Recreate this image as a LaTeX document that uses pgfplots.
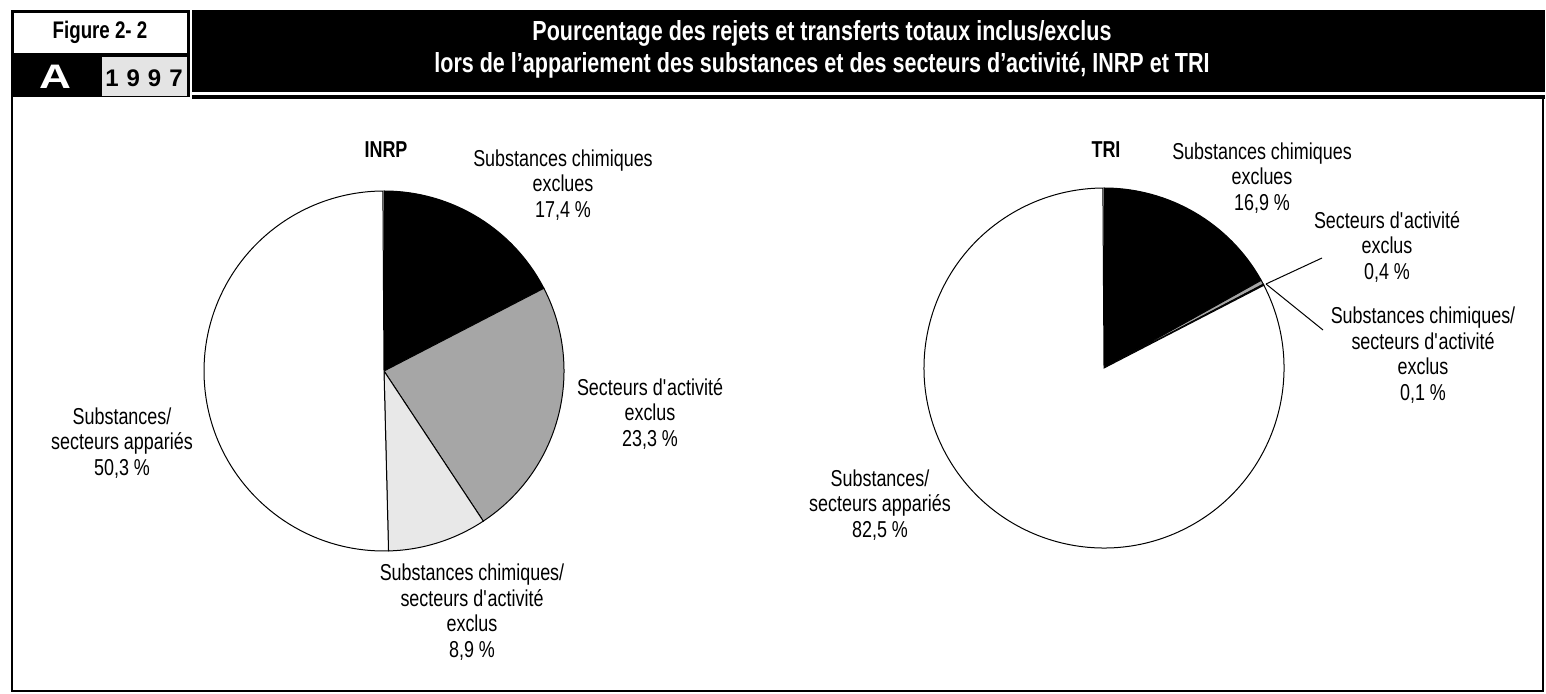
\documentclass[border=0pt]{standalone}
\usepackage{fontspec}
\setmainfont{Liberation Sans}[FakeStretch=0.78]
\newfontfamily\widefont{Liberation Sans}[FakeStretch=1.3]
\newfontfamily\yearfont{Liberation Sans}
\usepackage{pgfplots}
\usepackage{pgfplotstable}
\pgfplotsset{compat=1.18}

\definecolor{sliceA}{RGB}{0,0,0}
\definecolor{sliceB}{RGB}{166,166,166}
\definecolor{sliceC}{RGB}{232,232,232}
\definecolor{sliceD}{RGB}{255,255,255}
\definecolor{yearbox}{RGB}{228,228,228}

% shares in percent, clockwise from 12 o'clock
\pgfplotstableread{
pct col
17.4 sliceA
23.3 sliceB
8.9 sliceC
50.3 sliceD
}\inrp
\pgfplotstableread{
pct col
16.9 sliceA
0.4 sliceB
0.1 sliceC
82.5 sliceD
}\tri

\def\pierad{90pt}
\newcommand{\drawpie}[3]{% table, centre x, centre y
  \pgfplotstablegetrowsof{#1}%
  \pgfmathtruncatemacro{\nrows}{\pgfplotsretval-1}%
  \def\cum{0}%
  \pgfplotsforeachungrouped \i in {0,...,\nrows}{%
    \pgfplotstablegetelem{\i}{pct}\of{#1}\let\pct\pgfplotsretval
    \pgfplotstablegetelem{\i}{col}\of{#1}\let\col\pgfplotsretval
    \pgfmathsetmacro{\sa}{90-3.6*\cum}%
    \pgfmathsetmacro{\ea}{90-3.6*(\cum+\pct)}%
    \pgfmathsetmacro{\cum}{\cum+\pct}%
    \edef\cmd{\noexpand\filldraw[fill=\col,draw=black,line width=0.5pt]
      (axis cs:#2,#3) -- ++(\sa:\pierad)
      arc[start angle=\sa,end angle=\ea,radius=\pierad] -- cycle;}%
    \cmd
  }%
}
\newcommand{\lab}{\fontsize{11.5}{12.75}\selectfont}

\begin{document}
\begin{tikzpicture}
\begin{axis}[
  width=773pt, height=347pt, scale only axis,
  xmin=0, xmax=1546, ymin=0, ymax=694, y dir=reverse,
  hide axis, clip=false,
]
\path (axis cs:0,0) rectangle (axis cs:1546,694);
% header
\fill[black] (axis cs:11,10) rectangle (axis cs:190,97);
\fill[white] (axis cs:14,13) rectangle (axis cs:187,53);
\fill[yearbox] (axis cs:102,57) rectangle (axis cs:187,96);
\node[font=\fontsize{12}{14}\selectfont\bfseries] at (axis cs:100,32) {Figure 2- 2};
\node[font=\widefont\fontsize{17}{19}\selectfont\bfseries, text=white] at (axis cs:55,77) {A};
\node[font=\yearfont\fontsize{12}{14}\selectfont\bfseries] at (axis cs:144,78) {1\,\,9\,\,9\,\,7};
\fill[black] (axis cs:192,10) rectangle (axis cs:1545,92.5);
\fill[black] (axis cs:192,95.5) rectangle (axis cs:1545,99.5);
\node[font=\fontsize{13.8}{16}\selectfont\bfseries, text=white, align=center]
  at (axis cs:822,49) {Pourcentage des rejets et transferts totaux inclus/exclus\\
  lors de l’appariement des substances et des secteurs d’activité, INRP et TRI};
% frame
\draw[line width=1.2pt] (axis cs:12,97) -- (axis cs:12,691) -- (axis cs:1543,691) -- (axis cs:1543,99);

% pies
\drawpie{\inrp}{384}{371}
\drawpie{\tri}{1104}{368}

% INRP labels
\node[font=\fontsize{11.5}{13}\selectfont\bfseries] at (axis cs:386,150) {INRP};
\node[font=\lab, align=center] at (axis cs:563,185) {Substances chimiques\\exclues\\17,4 \%};
\node[font=\lab, align=center] at (axis cs:650,414) {Secteurs d\textquotesingle activité\\exclus\\23,3 \%};
\node[font=\lab, align=center] at (axis cs:472,612) {Substances chimiques/\\secteurs d\textquotesingle activité\\exclus\\8,9 \%};
\node[font=\lab, align=center] at (axis cs:122,443) {Substances/\\secteurs appariés\\50,3 \%};

% TRI labels
\node[font=\fontsize{11.5}{13}\selectfont\bfseries] at (axis cs:1106,150) {TRI};
\node[font=\lab, align=center] at (axis cs:1262,178) {Substances chimiques\\exclues\\16,9 \%};
\node[font=\lab, align=center] at (axis cs:1387,247) {Secteurs d\textquotesingle activité\\exclus\\0,4 \%};
\node[font=\lab, align=center] at (axis cs:1423,355) {Substances chimiques/\\secteurs d\textquotesingle activité\\exclus\\0,1 \%};
\node[font=\lab, align=center] at (axis cs:880,505) {Substances/\\secteurs appariés\\82,5 \%};
\draw[line width=0.5pt] (axis cs:1266,284) -- (axis cs:1322,258);
\draw[line width=0.5pt] (axis cs:1266,284) -- (axis cs:1323,330);
\end{axis}
\end{tikzpicture}
\end{document}
